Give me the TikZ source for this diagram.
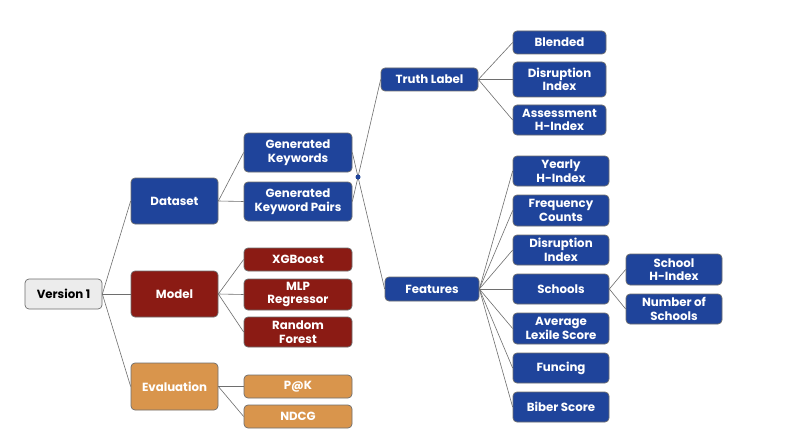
\documentclass[tikz,border=0pt]{standalone}
\usepackage{fontspec}
\setmainfont{Poppins}
\definecolor{cblue}{RGB}{31,68,155}
\definecolor{cred}{RGB}{139,27,20}
\definecolor{corange}{RGB}{217,149,76}
\definecolor{cgray}{RGB}{236,236,236}
\definecolor{cedge}{RGB}{110,110,110}
\begin{document}
\begin{tikzpicture}[x=1pt,y=-1pt,
  box/.style={draw=cedge, rounded corners=4pt, line width=0.7pt, text=white,
    font=\bfseries\fontsize{11.8}{13.6}\selectfont, align=center, inner sep=0pt},
  bbox/.style={box, fill=cblue},
  rbox/.style={box, fill=cred},
  obox/.style={box, fill=corange},
  gbox/.style={box, fill=cgray, text=black},
  wh/.style 2 args={minimum width=#1pt, minimum height=#2pt},
  link/.style={draw=cedge, line width=0.6pt}]
\useasboundingbox (0,0) rectangle (788,444);
\fill[white] (0,0) rectangle (788,444);
% level 0
\node[gbox, wh={77}{30}] (v1) at (63.5,294) {Version 1};
% level 1
\node[bbox, wh={87}{46}] (ds) at (174.5,201) {Dataset};
\node[rbox, wh={87}{46}] (md) at (174.5,294) {Model};
\node[obox, wh={87}{47}] (ev) at (174.5,386.5) {Evaluation};
% level 2
\node[bbox, wh={108}{39}] (gk) at (298,152.5) {Generated\\Keywords};
\node[bbox, wh={108}{39}] (gp) at (298,201.5) {Generated\\Keyword Pairs};
\node[rbox, wh={108}{23}] (xg) at (298,259.5) {XGBoost};
\node[rbox, wh={108}{31}] (mlp) at (298,294.5) {MLP\\Regressor};
\node[rbox, wh={108}{30}] (rf) at (298,332) {Random\\Forest};
\node[obox, wh={108}{23}] (pk) at (298,386.5) {P@K};
\node[obox, wh={108}{23}] (nd) at (298,416.5) {NDCG};
% junction
\coordinate (j) at (358,177);
% level 3
\node[bbox, wh={97}{23}] (tl) at (429.5,79.5) {Truth Label};
\node[bbox, wh={94}{24}] (ft) at (432,289) {Features};
% level 4
\node[bbox, wh={93}{23}] (bl) at (559.5,42.5) {Blended};
\node[bbox, wh={93}{35}] (di1) at (559.5,79.5) {Disruption\\Index};
\node[bbox, wh={93}{30}] (ah) at (559.5,120) {Assessment\\H-Index};
\node[bbox, wh={96}{30}] (yh) at (561,171) {Yearly\\H-Index};
\node[bbox, wh={96}{31}] (fc) at (561,210.5) {Frequency\\Counts};
\node[bbox, wh={96}{30}] (di2) at (561,250) {Disruption\\Index};
\node[bbox, wh={96}{30}] (sc) at (561,289) {Schools};
\node[bbox, wh={96}{31}] (al) at (561,328.5) {Average\\Lexile Score};
\node[bbox, wh={96}{30}] (fu) at (561,368) {Funcing};
\node[bbox, wh={96}{30}] (bs) at (561,407) {Biber Score};
% level 5
\node[bbox, wh={96}{31}] (sh) at (674,269.5) {School\\H-Index};
\node[bbox, wh={96}{30}] (ns) at (674,309) {Number of\\Schools};
% connectors
\foreach \c in {ds,md,ev} \draw[link] (v1.east) -- (\c.west);
\foreach \c in {gk,gp} \draw[link] (ds.east) -- (\c.west);
\foreach \c in {xg,mlp,rf} \draw[link] (md.east) -- (\c.west);
\foreach \c in {pk,nd} \draw[link] (ev.east) -- (\c.west);
\draw[link] (gk.east) -- (j);
\draw[link] (gp.east) -- (j);
\draw[link] (j) -- (tl.west);
\draw[link] (j) -- (ft.west);
\foreach \c in {bl,di1,ah} \draw[link] (tl.east) -- (\c.west);
\foreach \c in {yh,fc,di2,sc,al,fu,bs} \draw[link] (ft.east) -- (\c.west);
\foreach \c in {sh,ns} \draw[link] (sc.east) -- (\c.west);
\fill[cblue] (j) circle (2.5);
\end{tikzpicture}
\end{document}
